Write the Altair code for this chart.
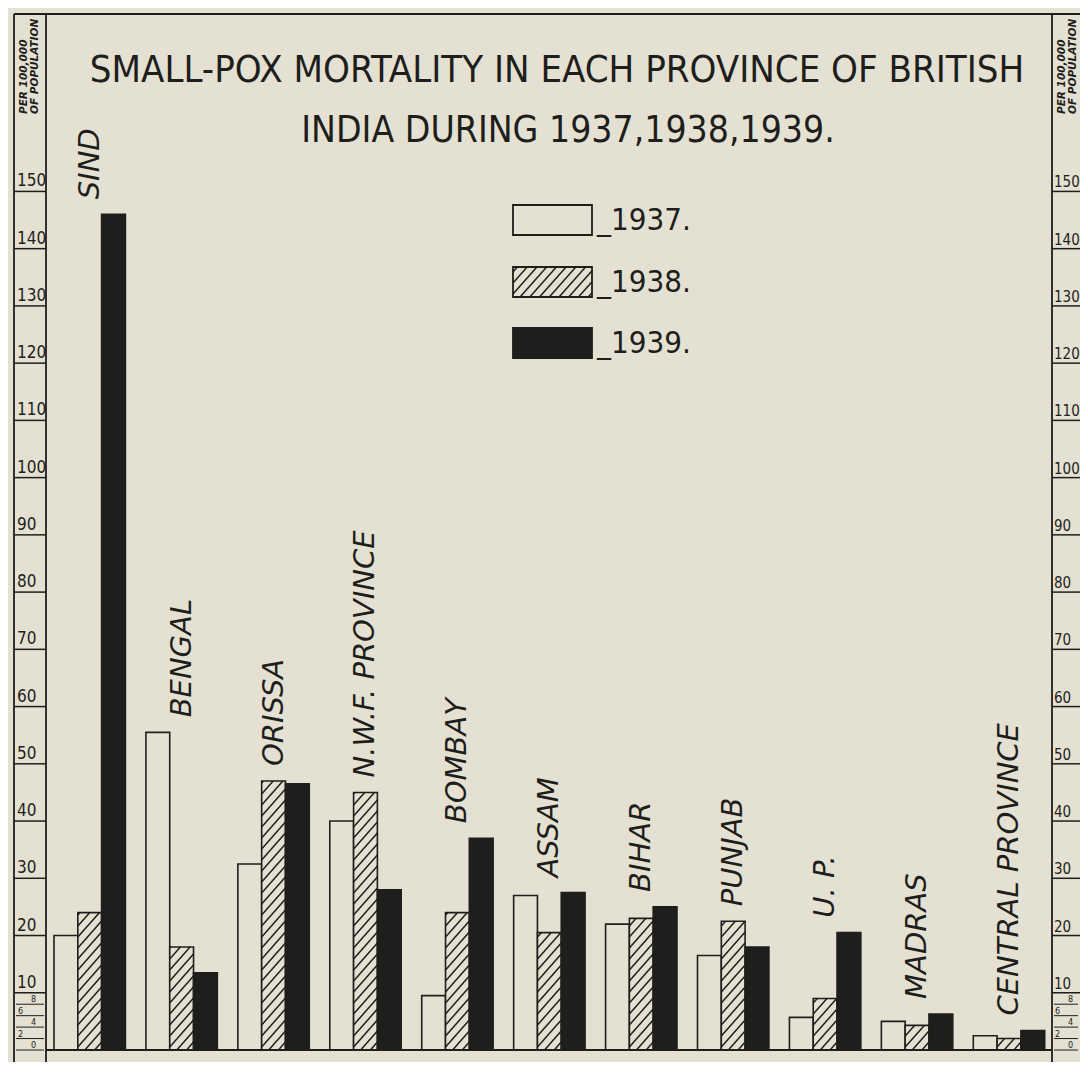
import math
import altair as alt
import pandas as pd

# ---------------- data ----------------
provinces = ["SIND", "BENGAL", "ORISSA", "N.W.F. PROVINCE", "BOMBAY", "ASSAM",
             "BIHAR", "PUNJAB", "U. P.", "MADRAS", "CENTRAL PROVINCE"]
years = ["1937", "1938", "1939"]
v1937 = [20, 55.5, 32.5, 40, 9.5, 27, 22, 16.5, 5.7, 5.0, 2.5]
v1938 = [24, 18, 47, 45, 24, 20.5, 23, 22.5, 9, 4.3, 2.0]
v1939 = [146, 13.5, 46.5, 28, 37, 27.5, 25, 18, 20.5, 6.3, 3.4]
major_ticks = [10, 20, 30, 40, 50, 60, 70, 80, 90, 100, 110, 120, 130, 140, 150]
minor_ticks = [8, 6, 4, 2, 0]
title_line1 = "SMALL-POX MORTALITY IN EACH PROVINCE OF BRITISH"
title_line2 = "INDIA DURING 1937,1938,1939."
unit_line1 = "PER 100,000"
unit_line2 = "OF POPULATION"
legend_labels = ["_1937.", "_1938.", "_1939."]

# ---------------- layout / style ----------------
W, H = 1006, 1036
YMAX = 181
PXU = H / YMAX
STEP_PX = 91.93
OFF_PX = 8.0
BAR_PX = 23.8
XMAX = W / STEP_PX
SP = 11.0          # hatch spacing (px)
SLOPE = 1.13       # hatch slope
BG = "#e4e1d2"
INK = "#1e1e1c"
NARROW = "Liberation Sans Narrow, Arial Narrow, DejaVu Sans Condensed, sans-serif"
HAND = "DejaVu Sans, sans-serif"

yscale = alt.Scale(domain=[0, YMAX], nice=False, zero=True)
xscale = alt.Scale(domain=[0, XMAX], nice=False, zero=False)


def X(f):
    return alt.X(f, type="quantitative", scale=xscale, axis=None)


def Y(f):
    return alt.Y(f, type="quantitative", scale=yscale, axis=None)


def hatch(x0, x1, y0, y1):
    segs = []
    kmin = -math.ceil(SLOPE * (x1 - x0) / SP) - 1
    kmax = math.ceil((y1 - y0) / SP) + 1
    for k in range(kmin, kmax + 1):
        c = y0 + k * SP + 3
        xa = max(x0, x0 + (y0 - c) / SLOPE)
        xb = min(x1, x0 + (y1 - c) / SLOPE)
        if xb - xa > 0.6:
            segs.append(dict(hx=xa / STEP_PX, hy=(c + SLOPE * (xa - x0)) / PXU,
                             hx2=xb / STEP_PX, hy2=(c + SLOPE * (xb - x0)) / PXU))
    return segs


# bars table
rows, hrows, lrows = [], [], []
for gi, p in enumerate(provinces):
    vals = [v1937[gi], v1938[gi], v1939[gi]]
    for j, yr in enumerate(years):
        x0 = OFF_PX + gi * STEP_PX + j * BAR_PX
        rows.append(dict(province=p, year=yr, x0=x0 / STEP_PX,
                         x1=(x0 + BAR_PX) / STEP_PX, v=vals[j], zero=0))
        if yr == "1938":
            hrows += hatch(x0, x0 + BAR_PX, 0, vals[j] * PXU)
    lrows.append(dict(province=p, xc=(OFF_PX + gi * STEP_PX + 1.5 * BAR_PX) / STEP_PX,
                      top=max(vals)))
bars = pd.DataFrame(rows)

# legend (drawn in plot space)
LEG_X0, LEG_X1 = 467.0, 546.0
LEG_TOPS = [191.0, 253.0, 314.0]
LEG_H = 30.0
leg_rows = []
for i, yr in enumerate(years):
    top_up = H - LEG_TOPS[i]
    bot_up = top_up - LEG_H
    leg_rows.append(dict(year=yr, label=legend_labels[i], x0=LEG_X0 / STEP_PX,
                         x1=LEG_X1 / STEP_PX, y0=bot_up / PXU, y1=top_up / PXU,
                         ym=(bot_up + top_up) / 2 / PXU, xt=(LEG_X1 + 5) / STEP_PX))
    if yr == "1938":
        hrows += hatch(LEG_X0, LEG_X1, bot_up, top_up)
legend_df = pd.DataFrame(leg_rows)
hatch_df = pd.DataFrame(hrows)
labels_df = pd.DataFrame(lrows)
major_df = pd.DataFrame({"v": major_ticks})
minor_df = pd.DataFrame({"v": minor_ticks, "side": ["r", "l", "r", "l", "r"]})
zero_df = pd.DataFrame({"zero": [0]})
one = pd.DataFrame({"k": [0]})

fillscale = alt.Scale(domain=years, range=[BG, BG, INK])

bar_layer = alt.Chart(bars).mark_rect(stroke=INK, strokeWidth=1.6).encode(
    x=X("x0"), x2="x1", y=Y("v"), y2="zero",
    fill=alt.Fill("year:N", scale=fillscale, legend=None))

legend_box = alt.Chart(legend_df).mark_rect(stroke=INK, strokeWidth=1.8).encode(
    x=X("x0"), x2="x1", y=Y("y0"), y2="y1",
    fill=alt.Fill("year:N", scale=fillscale, legend=None))

hatch_layer = alt.Chart(hatch_df).mark_rule(color=INK, strokeWidth=1.5).encode(
    x=X("hx"), y=Y("hy"), x2="hx2", y2="hy2")

label_layer = alt.Chart(labels_df).mark_text(
    angle=270, align="left", baseline="middle", dx=15, font=HAND, fontSize=29,
    fontStyle="italic", color=INK).encode(x=X("xc"), y=Y("top"), text="province:N")

legend_txt = alt.Chart(legend_df).mark_text(
    align="left", baseline="middle", font=NARROW, fontSize=31, color=INK, dy=1).encode(
    x=X("xt"), y=Y("ym"), text="label:N")

baseline = alt.Chart(zero_df).mark_rule(color=INK, strokeWidth=1.8).encode(
    x=alt.value(0), x2=alt.value(W), y=Y("zero"))

frame = [
    alt.Chart(one).mark_rule(color=INK, strokeWidth=1.8).encode(
        x=alt.value(-32), x2=alt.value(W + 28), y=alt.value(0)),
]
for xv in (-32, 0, W):
    frame.append(alt.Chart(one).mark_rule(color=INK, strokeWidth=1.8).encode(
        x=alt.value(xv), y=alt.value(0), y2=alt.value(H + 14)))

ticks = []
for (xa, xb, xt, fs) in ((-32, 0, -29, 17), (W, W + 28, W + 2, 15)):
    ticks.append(alt.Chart(major_df).mark_rule(color=INK, strokeWidth=1.5).encode(
        x=alt.value(xa), x2=alt.value(xb), y=Y("v")))
    ticks.append(alt.Chart(major_df).mark_text(
        align="left", baseline="bottom", dy=-1, font=NARROW, fontSize=fs, color=INK).encode(
        x=alt.value(xt), y=Y("v"), text="v:Q"))
    ticks.append(alt.Chart(minor_df).mark_rule(color=INK, strokeWidth=1).encode(
        x=alt.value(xa + 2), x2=alt.value(xb - 2), y=Y("v")))
    for side, off in (("r", 14), ("l", 1)):
        ticks.append(alt.Chart(minor_df).transform_filter(
            alt.datum.side == side).mark_text(
            align="left", baseline="bottom", font=NARROW, fontSize=9, color=INK).encode(
            x=alt.value(xt + off), y=Y("v"), text="v:Q"))
    for i, t in enumerate((unit_line1, unit_line2)):
        ticks.append(alt.Chart(one).mark_text(
            text=t, angle=270, align="left", baseline="middle", font=HAND,
            fontSize=10.5, fontStyle="italic", fontWeight="bold", color=INK).encode(
            x=alt.value(xa + 10 + 11 * i), y=alt.value(100)))

titles = [
    alt.Chart(one).mark_text(text=title_line1, align="center", baseline="middle",
                             font=NARROW, fontSize=38, color=INK).encode(
        x=alt.value(511), y=alt.value(57)),
    alt.Chart(one).mark_text(text=title_line2, align="center", baseline="middle",
                             font=NARROW, fontSize=37, color=INK).encode(
        x=alt.value(522), y=alt.value(117)),
]

chart = alt.layer(
    bar_layer, legend_box, hatch_layer, baseline, label_layer, legend_txt,
    *frame, *ticks, *titles
).properties(
    width=W, height=H,
    padding={"left": 38, "top": 6, "right": 28, "bottom": 12},
    autosize=alt.AutoSizeParams(type="none"),
    background=BG,
).configure_view(stroke=None)

chart.save("out.html", embed_options={"renderer": "svg", "actions": False})
